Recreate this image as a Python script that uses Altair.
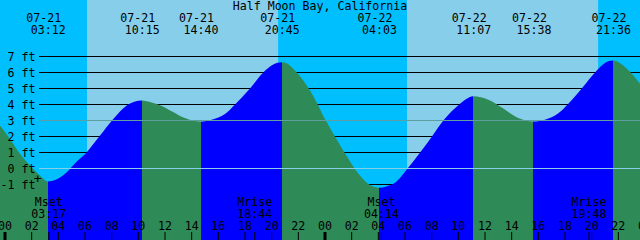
import altair as alt
import pandas as pd

# ---------------- data (hours since 07-21 00:00, feet) ----------------
curve_hours = [-0.375, 0.375, 1.125, 1.875, 2.625, 3.2, 4.0, 4.63, 5.4, 6.13, 7.125, 8.12,
               9.13, 9.7, 10.25, 11.0, 11.625, 12.5, 13.5, 14.1, 14.667, 15.5, 16.5, 17.25,
               18.375, 19.37, 20.12, 20.75, 21.2, 21.62, 22.875, 24.13, 25.37, 26.625, 27.4,
               28.05, 28.6, 29.12, 30.375, 31.63, 32.875, 34.125, 34.6, 35.117, 36.25,
               37.375, 38.5, 39.1, 39.633, 40.5, 41.5, 42.25, 43.3, 44.3, 45.0, 45.6,
               46.5, 47.625]
curve_feet = [2.69, 1.85, 0.92, 0.19, -0.44, -0.81, -0.62, -0.23, 0.45, 1.02, 2.06, 3.1,
              3.94, 4.17, 4.25, 4.12, 3.95, 3.58, 3.15, 2.99, 2.94, 3.05, 3.4, 4.0,
              5.0, 6.0, 6.5, 6.64, 6.55, 6.23, 4.875, 2.9, 1.125, -0.44, -1.05,
              -1.2, -1.12, -0.96, 0.19, 1.54, 3.0, 4.04, 4.35, 4.52, 4.3,
              3.75, 3.15, 2.98, 2.94, 3.05, 3.45, 4.05, 5.05, 6.05, 6.6, 6.75,
              6.35, 5.3]

event_hours = [3.2, 10.25, 14.667, 20.75, 28.05, 35.117, 39.633, 45.6]
event_kinds = ["low", "high", "low", "high", "low", "high", "low", "high"]
event_dates = ["07-21", "07-21", "07-21", "07-21", "07-22", "07-22", "07-22", "07-22"]
event_times = ["03:12", "10:15", "14:40", "20:45", "04:03", "11:07", "15:38", "21:36"]

sky_start = [-0.375, 6.15, 20.5, 30.15, 44.5]
sky_end = [6.15, 20.5, 30.15, 44.5, 47.625]
sky_kind = ["night", "day", "night", "day", "night"]

moon_hours = [3.283, 18.733, 28.233, 43.8]
moon_names = ["Mset", "Mrise", "Mset", "Mrise"]
moon_times = ["03:17", "18:44", "04:14", "19:48"]

level_ft = [7, 6, 5, 4, 3, 2, 1, 0, -1]
level_labels = ["7 ft", "6 ft", "5 ft", "4 ft", "3 ft", "2 ft", "1 ft", "0 ft", "-1 ft"]

hour_ticks = list(range(0, 49, 2))
hour_labels = [f"{h % 24:02d}" for h in hour_ticks]

marker_hour = [2.44]
marker_ft = [-0.63]

title_text = "Half Moon Bay, California"

# ---------------- styling ----------------
X0, X1 = -0.375, 47.625
Y0, Y1 = -4.5, 10.5
NIGHT, DAY = "#00BFFF", "#87CEEB"
RISE, FALL = "#0000FF", "#2E8B57"
FONT = "DejaVu Sans Mono"
FS = 11.6

xs = alt.Scale(domain=[X0, X1], range=[0, 640], nice=False, zero=False)
ys = alt.Scale(domain=[Y0, Y1], range=[240.5, 0.5], nice=False, zero=False)

curve = pd.DataFrame({"h": curve_hours, "ft": curve_feet})
events = pd.DataFrame({"h": event_hours, "kind": event_kinds,
                       "date": event_dates, "time": event_times})
sky = pd.DataFrame({"s": sky_start, "e": sky_end, "kind": sky_kind})
moon = pd.DataFrame({"h": moon_hours, "name": moon_names, "time": moon_times})
levels = pd.DataFrame({"ft": level_ft, "label": level_labels})
hours = pd.DataFrame({"h": hour_ticks, "label": hour_labels})
marker = pd.DataFrame({"h": marker_hour, "ft": marker_ft})
title_df = pd.DataFrame({"t": [title_text]})

# water colour gradient: falling = green, rising = blue
stops = [alt.GradientStop(color=FALL, offset=0)]
last = FALL
for h, k in zip(event_hours, event_kinds):
    off = (h - X0) / (X1 - X0)
    before = FALL if k == "low" else RISE
    after = RISE if k == "low" else FALL
    stops += [alt.GradientStop(color=before, offset=off),
              alt.GradientStop(color=after, offset=off)]
    last = after
stops.append(alt.GradientStop(color=last, offset=1))

sky_layer = alt.Chart(sky).mark_rect().encode(
    x=alt.X("s:Q", scale=xs, axis=None), x2="e:Q",
    y=alt.value(0), y2=alt.value(240),
    color=alt.Color("kind:N", scale=alt.Scale(domain=["night", "day"], range=[NIGHT, DAY]),
                    legend=None),
)

black_lines = alt.Chart(levels).transform_filter(
    "datum.ft != 0 && datum.ft != 3").mark_rule(color="black", strokeWidth=1).encode(
    y=alt.Y("ft:Q", scale=ys, axis=None), x=alt.value(39), x2=alt.value(640))

water = alt.Chart(curve).transform_calculate(base=str(Y0)).mark_area(
    interpolate="monotone",
    color=alt.Gradient(gradient="linear", stops=stops, x1=0, x2=1, y1=0, y2=0),
).encode(x=alt.X("h:Q", scale=xs, axis=None), y=alt.Y("ft:Q", scale=ys, axis=None),
         y2="base:Q")

zero_line = alt.Chart(levels).transform_filter("datum.ft == 0").mark_rule(
    color="#87CEEB", strokeWidth=1).encode(
    y=alt.Y("ft:Q", scale=ys, axis=None), x=alt.value(39), x2=alt.value(640))
msl_line = alt.Chart(levels).transform_filter("datum.ft == 3").mark_rule(
    color="#5F9EA0", strokeWidth=1).encode(
    y=alt.Y("ft:Q", scale=ys, axis=None), x=alt.value(39), x2=alt.value(640))

txt = dict(font=FONT, fontSize=FS, color="black", baseline="alphabetic")

level_text = alt.Chart(levels).mark_text(align="right", dy=4.2, **txt).encode(
    x=alt.value(35.5), y=alt.Y("ft:Q", scale=ys, axis=None), text="label:N")

marker_text = alt.Chart(marker).mark_text(font=FONT, fontSize=13, color="black",
                                          baseline="middle", align="center").encode(
    x=alt.X("h:Q", scale=xs, axis=None), y=alt.Y("ft:Q", scale=ys, axis=None), text=alt.value("+"))

date_text = alt.Chart(events).mark_text(align="center", dx=-4, **txt).encode(
    x=alt.X("h:Q", scale=xs, axis=None), y=alt.value(21.7), text="date:N")
time_text = alt.Chart(events).mark_text(align="center", dx=0.5, **txt).encode(
    x=alt.X("h:Q", scale=xs, axis=None), y=alt.value(34), text="time:N")

title_layer = alt.Chart(title_df).mark_text(align="center", **txt).encode(
    x=alt.value(320), y=alt.value(9.5), text="t:N")

moon_name = alt.Chart(moon).mark_text(align="center", **txt).encode(
    x=alt.X("h:Q", scale=xs, axis=None), y=alt.value(206), text="name:N")
moon_time = alt.Chart(moon).mark_text(align="center", **txt).encode(
    x=alt.X("h:Q", scale=xs, axis=None), y=alt.value(218.3), text="time:N")
moon_ticks = alt.Chart(moon).mark_rule(color="black", strokeWidth=1).encode(
    x=alt.X("h:Q", scale=xs, axis=None), y=alt.value(232), y2=alt.value(240))

hour_text = alt.Chart(hours).mark_text(align="center", **txt).encode(
    x=alt.X("h:Q", scale=xs, axis=None), y=alt.value(230), text="label:N")
hour_ticks_thin = alt.Chart(hours).transform_filter("datum.h % 24 != 0").mark_rule(
    color="black", strokeWidth=1).encode(
    x=alt.X("h:Q", scale=xs, axis=None), y=alt.value(232), y2=alt.value(240))
hour_ticks_thick = alt.Chart(hours).transform_filter("datum.h % 24 == 0").mark_rule(
    color="black", strokeWidth=3).encode(
    x=alt.X("h:Q", scale=xs, axis=None), y=alt.value(232), y2=alt.value(240))

chart = alt.layer(
    sky_layer, black_lines, water, zero_line, msl_line,
    level_text, marker_text, date_text, time_text, title_layer,
    moon_name, moon_time, moon_ticks, hour_text, hour_ticks_thin, hour_ticks_thick,
).properties(
    width=640, height=240, autosize=alt.AutoSizeParams(type="none"), padding=0,
    background=NIGHT,
).configure_view(stroke=None)

chart.save("out.html", embed_options={"renderer": "svg", "actions": False})
